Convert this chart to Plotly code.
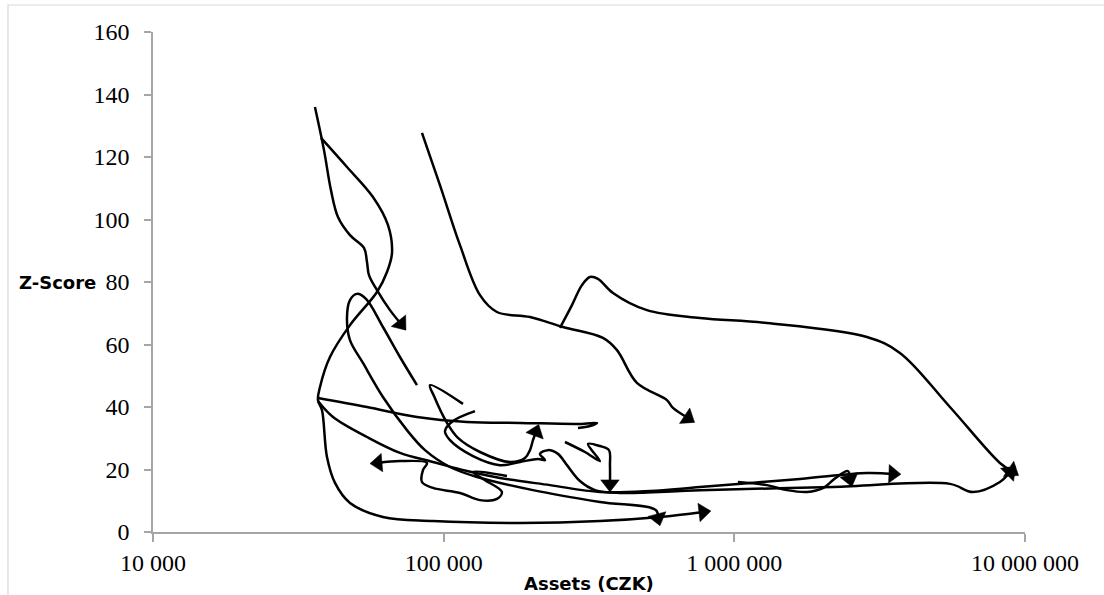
import math
import plotly.graph_objects as go

# ---- data (Assets in CZK, Z-Score) ----
a_assets = [36070, 38750, 40950, 43290, 47610, 53190, 54470, 55340, 58960, 65360, 71300]
a_z = [136.0, 122.2, 109.4, 100.8, 95.0, 90.9, 86.4, 82.2, 77.4, 71.0, 66.6]

b_assets = [37840, 46490, 57110, 64340, 66410, 63830, 58960, 47610, 40630, 37540, 36940,
            38140, 39680, 42280, 47610, 61820, 91880, 183030, 344900, 554680, 779900]
b_z = [126.1, 116.8, 107.2, 98.2, 89.3, 83.2, 76.8, 66.2, 56.0, 46.4, 42.2,
       39.0, 24.0, 15.7, 9.3, 4.8, 3.5, 2.9, 3.5, 4.8, 6.4]

c_assets = [36940, 54470, 80940, 120270, 183030, 294370, 336790, 318640, 289740]
c_z = [42.9, 40.0, 36.8, 35.2, 34.9, 34.6, 34.9, 33.9, 33.3]

d_assets = [36940, 41610, 54470, 70730, 91880, 120270, 156190, 232140, 344900, 512480,
            761660, 1682000, 2858300, 3512000]
d_z = [41.9, 36.8, 30.4, 25.3, 22.4, 19.5, 17.3, 15.0, 12.8, 13.1, 14.4, 17.0, 18.9, 18.6]

e_assets = [80940, 70730, 61820, 54040, 50320, 47610, 46490, 47610, 52770, 61820, 74760,
            86260, 105130, 130210, 202890, 344900, 537400, 546100]
e_z = [47.0, 56.0, 65.6, 74.6, 76.2, 74.2, 68.5, 61.4, 54.1, 43.2, 32.6,
       26.2, 20.8, 17.6, 13.4, 9.6, 7.0, 4.5]

f_assets = [165110, 126140, 138740, 158680, 152530, 133330, 113790, 91880, 84200, 84870,
            87600, 70730, 59430]
f_z = [17.9, 19.2, 16.6, 12.8, 10.6, 10.2, 12.5, 14.1, 16.0, 19.8, 22.1, 22.7, 22.1]

g_assets = [116520, 89750, 92610, 102660, 111990, 133330, 169090, 190430, 198140, 202890, 207760]
g_z = [41.0, 47.0, 43.5, 34.9, 30.1, 25.6, 22.4, 23.7, 26.2, 29.4, 32.0]

h_assets = [128160, 107650, 101040, 105130, 126140, 156190, 183030, 211090, 223130, 214470,
            228470, 247300, 265590, 294370, 331510, 404140, 761660, 2183700, 5516800,
            6620000, 8196000, 8872000]
h_z = [38.7, 35.5, 32.3, 29.4, 24.3, 21.4, 22.4, 23.4, 23.0, 25.0,
       26.2, 25.0, 21.4, 16.3, 13.4, 12.5, 13.4, 14.4, 15.4,
       12.8, 16.0, 19.2]

i_assets = [261390, 306260, 344900, 313610, 344900, 370400, 373350, 373350]
i_z = [28.8, 25.6, 22.7, 28.2, 27.5, 26.2, 21.4, 15.4]

j_assets = [84200, 97100, 113790, 133330, 152530, 198140, 257270, 353180, 394660, 462300,
            586280, 615000, 692500]
j_z = [127.7, 111.0, 91.8, 75.8, 70.4, 68.8, 65.6, 62.1, 58.2, 47.7, 42.2, 39.7, 36.5]

k_assets = [251250, 276300, 299000, 318640, 339440, 382310, 500360, 761660, 1294600,
            2858300, 3713000, 5516800, 8196000, 9016000]
k_z = [65.3, 72.6, 79.0, 81.6, 81.0, 76.5, 71.0, 68.5, 66.9, 62.4, 57.3, 40.0, 22.1, 19.5]

l_assets = [1028900, 1294600, 1516900, 1777500, 2025300, 2210000, 2459000, 2498400]
l_z = [16.0, 15.0, 13.4, 12.8, 14.1, 17.0, 19.5, 17.0]

tick_vals = [10000, 100000, 1000000, 10000000]
tick_text = ["10 000", "100 000", "1 000 000", "10 000 000"]

series = [
    (a_assets, a_z, True), (b_assets, b_z, True), (c_assets, c_z, False),
    (d_assets, d_z, True), (e_assets, e_z, True), (f_assets, f_z, True),
    (g_assets, g_z, True), (h_assets, h_z, True), (i_assets, i_z, True),
    (j_assets, j_z, True), (k_assets, k_z, True), (l_assets, l_z, True),
]

# layout geometry (used to orient the arrowheads along the last segment on screen)
W, H = 1104, 595
M_L, M_R, M_T, M_B = 153, 79, 32, 63
X_RANGE = [4, 7]
Y_RANGE = [0, 160]
px_per_decade = (W - M_L - M_R) / (X_RANGE[1] - X_RANGE[0])
px_per_unit = (H - M_T - M_B) / (Y_RANGE[1] - Y_RANGE[0])

fig = go.Figure()
for xs, zs, arrow in series:
    n = len(xs)
    sizes = [0] * (n - 1) + [16 if arrow else 0]
    dx = (math.log10(xs[-1]) - math.log10(xs[-2])) * px_per_decade
    dy = (zs[-1] - zs[-2]) * px_per_unit
    ang = math.degrees(math.atan2(dx, dy))
    fig.add_trace(go.Scatter(
        x=xs, y=zs, mode="lines+markers",
        line=dict(color="black", width=2.5, shape="spline", smoothing=1.0),
        marker=dict(symbol="triangle-up", size=sizes, color="black", opacity=1,
                    angle=ang, line=dict(width=0.5, color="black")),
        showlegend=False, hoverinfo="skip",
    ))

axis_gray = "#a6a6a6"
tick_font = dict(family="Liberation Serif", size=24, color="black")

fig.update_xaxes(type="log", range=X_RANGE, tickvals=tick_vals, ticktext=tick_text,
                 showline=True, linecolor=axis_gray, linewidth=1.5,
                 ticks="outside", ticklen=8, tickwidth=1.5, tickcolor=axis_gray,
                 showgrid=False, zeroline=False, tickfont=tick_font)
fig.update_yaxes(range=Y_RANGE, dtick=20, tick0=0,
                 showline=True, linecolor=axis_gray, linewidth=1.5,
                 ticks="outside", ticklen=7, tickwidth=1.5, tickcolor=axis_gray,
                 showgrid=False, zeroline=False, tickfont=tick_font,
                 ticklabelstandoff=10)

title_font = dict(family="DejaVu Sans", size=18, color="black")
fig.add_annotation(text="<b>Z-Score</b>", xref="paper", yref="y", x=0, y=80,
                   xanchor="right", yanchor="middle", xshift=-55, showarrow=False,
                   font=title_font)
fig.add_annotation(text="<b>Assets (CZK)</b>", xref="paper", yref="paper", x=0.5, y=0,
                   xanchor="center", yanchor="middle", yshift=-51, showarrow=False,
                   font=title_font)

# light outer chart border (top and left edges visible)
fig.add_shape(type="rect", xref="paper", yref="paper",
              x0=-0.1663, y0=-0.2, x1=1.2, y1=1.054,
              line=dict(color="#d9d9d9", width=1.2), fillcolor="rgba(0,0,0,0)", layer="below")

fig.update_layout(width=W, height=H,
                  margin=dict(l=M_L, r=M_R, t=M_T, b=M_B),
                  paper_bgcolor="white", plot_bgcolor="white")

fig.write_html("out.html", config={"displayModeBar": False},
               post_script="document.body.style.margin='0';document.body.style.overflow='hidden';")
